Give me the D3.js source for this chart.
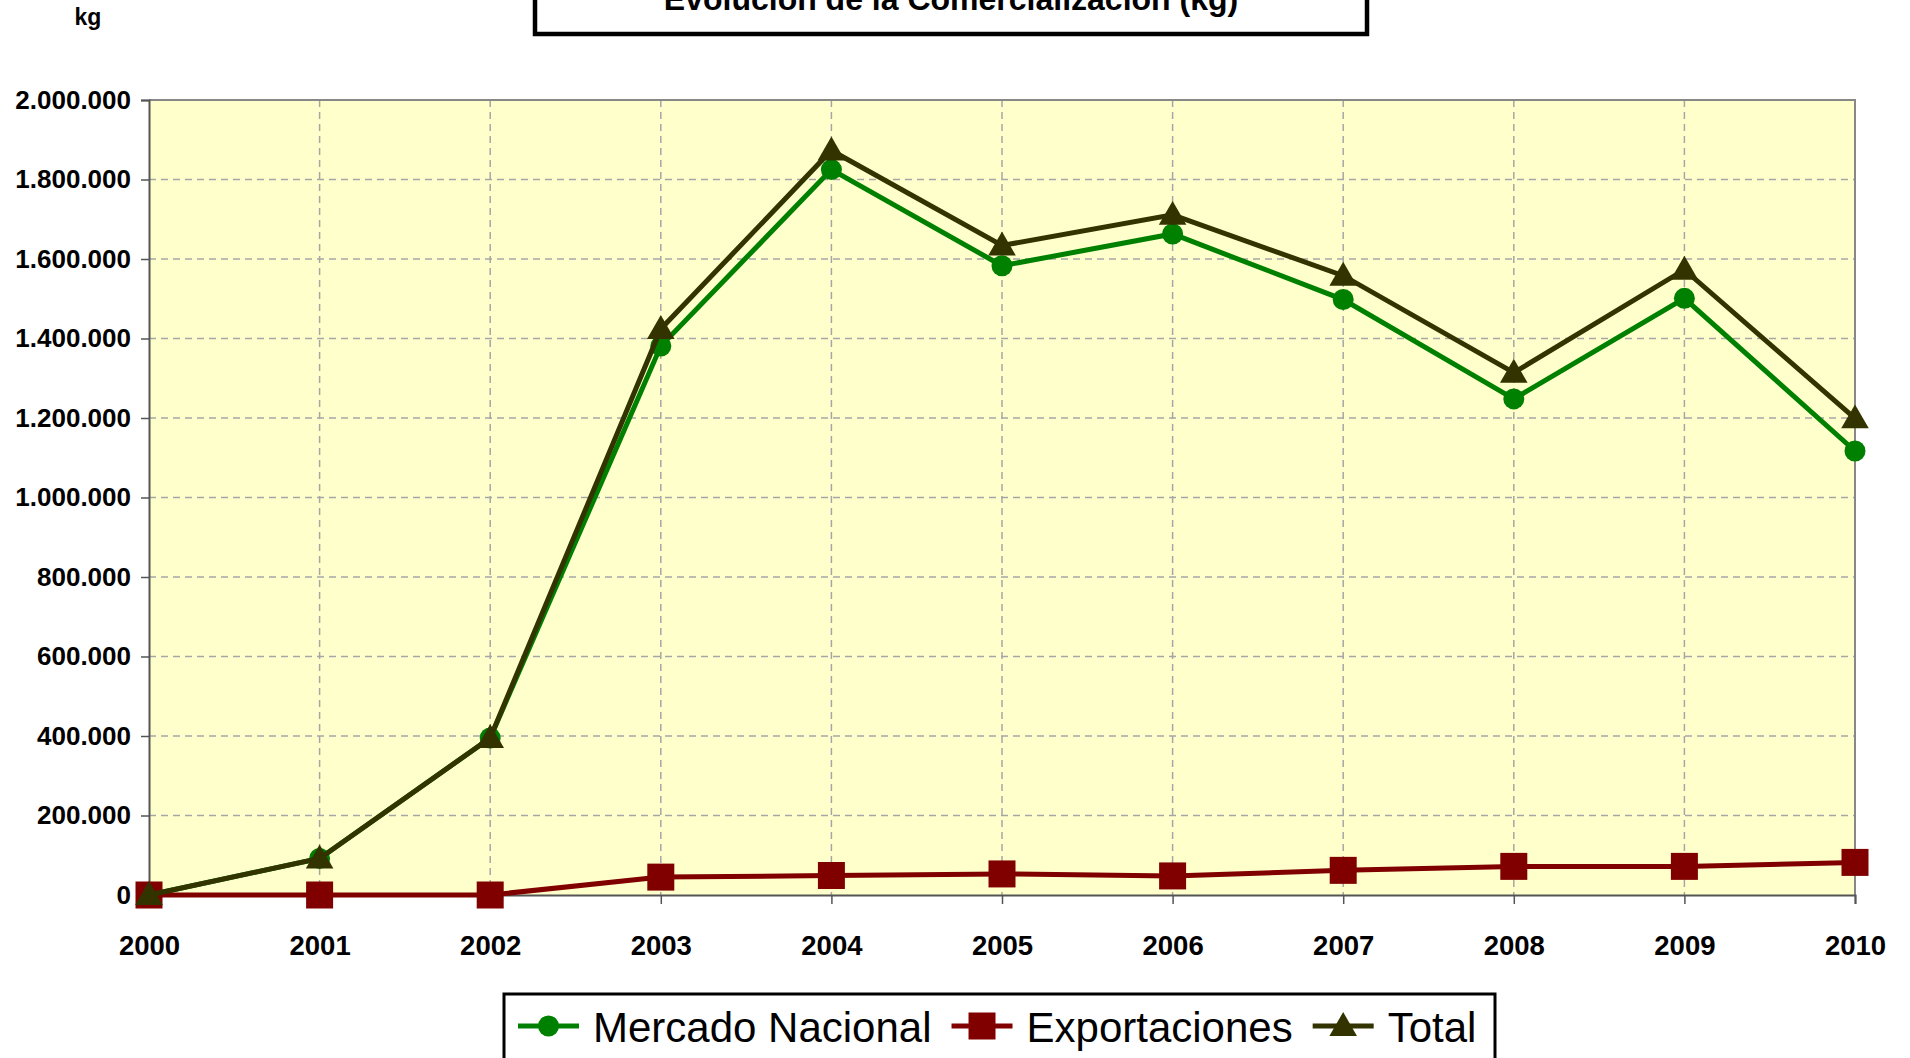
<!DOCTYPE html>
<html>
<head>
<meta charset="utf-8">
<script src="https://cdn.jsdelivr.net/npm/d3@7"></script>
<style>
  html, body { margin: 0; padding: 0; background: #fff; }
  svg { display: block; font-family: "Liberation Sans", Arial, sans-serif; }
</style>
</head>
<body>
<svg id="chart" width="1910" height="1058"></svg>
<script>
// data
const years = ["2000", "2001", "2002", "2003", "2004", "2005", "2006", "2007", "2008", "2009", "2010"];
const mercadoNacional = [0, 92000, 395000, 1381000, 1825000, 1583000, 1663000, 1498000, 1248000, 1501000, 1117000];
const exportaciones = [0, 0, 0, 45000, 49000, 53000, 48000, 62000, 72000, 72000, 82000];
const total = [0, 92000, 395000, 1424000, 1873000, 1634000, 1711000, 1558000, 1314000, 1573000, 1199000];
const yTicks = [0, 200000, 400000, 600000, 800000, 1000000, 1200000, 1400000, 1600000, 1800000, 2000000];

const seriesNames = ["Mercado Nacional", "Exportaciones", "Total"];
const seriesColors = ["#008000", "#800000", "#333300"];
const seriesMarkers = ["circle", "square", "triangle"];

const svg = d3.select("#chart");

const plot = { left: 149, right: 1855, top: 100, bottom: 895 };

const x = d3.scalePoint().domain(years).range([plot.left, plot.right]).padding(0);
const y = d3.scaleLinear().domain([0, 2000000]).range([plot.bottom, plot.top]);

const es = d3.formatLocale({ decimal: ",", thousands: ".", grouping: [3], currency: ["", " €"] });
const fmt = es.format(",d");

// plot background
svg.append("rect")
  .attr("x", plot.left).attr("y", plot.top)
  .attr("width", plot.right - plot.left).attr("height", plot.bottom - plot.top)
  .attr("fill", "#ffffcc");

// horizontal grid
svg.append("g")
  .selectAll("line")
  .data(yTicks.filter(d => d > 0 && d < 2000000))
  .join("line")
  .attr("x1", plot.left).attr("x2", plot.right)
  .attr("y1", d => y(d)).attr("y2", d => y(d))
  .attr("stroke", "#a6a6a6").attr("stroke-width", 1.5)
  .attr("stroke-dasharray", "7,5");

// vertical grid
svg.append("g")
  .selectAll("line")
  .data(years.slice(1, -1))
  .join("line")
  .attr("x1", d => x(d)).attr("x2", d => x(d))
  .attr("y1", plot.top).attr("y2", plot.bottom)
  .attr("stroke", "#a6a6a6").attr("stroke-width", 1.5)
  .attr("stroke-dasharray", "7,5");

// plot border (top / right)
svg.append("path")
  .attr("d", `M${plot.left},${plot.top}H${plot.right}V${plot.bottom}`)
  .attr("fill", "none").attr("stroke", "#888").attr("stroke-width", 2);

// axes
const yAxis = svg.append("g")
  .attr("transform", `translate(${plot.left},0)`)
  .call(d3.axisLeft(y).tickValues(yTicks).tickFormat(fmt).tickSize(8).tickPadding(10));
const xAxis = svg.append("g")
  .attr("transform", `translate(0,${plot.bottom})`)
  .call(d3.axisBottom(x).tickSize(9).tickPadding(31));

[yAxis, xAxis].forEach(a => {
  a.select(".domain").attr("stroke", "#555").attr("stroke-width", 2);
  a.selectAll(".tick line").attr("stroke", "#555").attr("stroke-width", 1.5);
  a.selectAll("text")
    .attr("fill", "#000")
    .style("font-size", "26px")
    .style("font-weight", "bold")
    .style("font-family", "'Liberation Sans', Arial, sans-serif");
});
xAxis.selectAll(".tick text").attr("dy", "0.71em").style("font-size", "27.5px");

// markers
const sym = {
  circle: d3.symbol().type(d3.symbolCircle).size(Math.PI * 10.5 * 10.5),
  square: d3.symbol().type(d3.symbolSquare).size(27 * 27),
  triangle: d3.symbol().type(d3.symbolTriangle).size(330)
};

function drawMarker(g, kind, color, cx, cy) {
  g.append("path")
    .attr("d", sym[kind]())
    .attr("transform", `translate(${cx},${cy + (kind === "triangle" ? 2 : 0)})`)
    .attr("fill", color);
}

const allSeries = [mercadoNacional, exportaciones, total];
const line = d3.line().x((d, i) => x(years[i])).y(d => y(d));

allSeries.forEach((vals, s) => {
  const g = svg.append("g");
  g.append("path")
    .datum(vals)
    .attr("d", line)
    .attr("fill", "none")
    .attr("stroke", seriesColors[s])
    .attr("stroke-width", 5)
    .attr("stroke-linejoin", "miter");
  vals.forEach((v, i) => drawMarker(g, seriesMarkers[s], seriesColors[s], x(years[i]), y(v)));
});

// title box, cut at the top of the picture as in the original
svg.append("rect")
  .attr("x", 535).attr("y", -20)
  .attr("width", 832).attr("height", 54)
  .attr("fill", "#fff").attr("stroke", "#000").attr("stroke-width", 4.5);
svg.append("text")
  .attr("x", 951).attr("y", 10)
  .attr("text-anchor", "middle")
  .style("font-size", "32px").style("font-weight", "bold")
  .text("Evolución de la Comercialización (kg)");

// unit label
svg.append("text")
  .attr("x", 88).attr("y", 25)
  .attr("text-anchor", "middle")
  .style("font-size", "23px").style("font-weight", "bold")
  .text("kg");

// legend
const legend = svg.append("g");
legend.append("rect")
  .attr("x", 504).attr("y", 994)
  .attr("width", 991).attr("height", 90)
  .attr("fill", "#fff").attr("stroke", "#000").attr("stroke-width", 3);

let lx = 518;
const ly = 1026;
seriesNames.forEach((name, s) => {
  legend.append("line")
    .attr("x1", lx).attr("x2", lx + 61)
    .attr("y1", ly).attr("y2", ly)
    .attr("stroke", seriesColors[s]).attr("stroke-width", 5);
  drawMarker(legend, seriesMarkers[s], seriesColors[s], lx + 30.5, ly);
  const t = legend.append("text")
    .attr("x", lx + 75).attr("y", ly + 16)
    .style("font-size", "42px")
    .text(name);
  lx += 75 + t.node().getComputedTextLength() + 20;
});
</script>
</body>
</html>
